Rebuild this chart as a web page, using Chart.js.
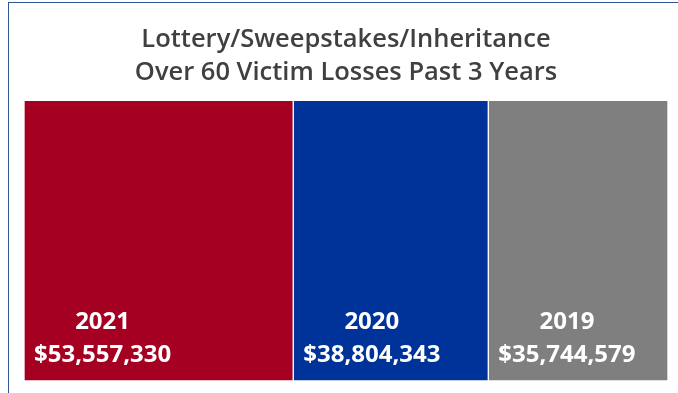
<!DOCTYPE html>
<html>
<head>
<meta charset="utf-8">
<script src="https://cdn.jsdelivr.net/npm/chart.js@4"></script>
<style>
  html, body { margin: 0; padding: 0; background: #fff; }
  #wrap { position: relative; width: 678px; height: 393px; }
  #frame { position: absolute; left: 8px; top: 2px; right: 0; bottom: 0; border-left: 1px solid #2f5597; border-top: 1px solid #2f5597; }
  #c { position: absolute; left: 0; top: 0; }
</style>
</head>
<body>
<div id="wrap">
  <div id="frame"></div>
  <canvas id="c" width="678" height="393"></canvas>
</div>
<script>
// dados do gráfico
const years = ['2021', '2020', '2019'];
const losses = [53557330, 38804343, 35744579];
const colors = ['#a50021', '#003399', '#7f7f7f'];
const titleLines = ['Lottery/Sweepstakes/Inheritance', 'Over 60 Victim Losses Past 3 Years'];

const total = losses.reduce((a, b) => a + b, 0);

function money(v) {
    return '$' + v.toLocaleString('en-US');
}

// escreve ano + valor dentro de cada bloco
const boxLabels = {
    id: 'boxLabels',
    afterDatasetsDraw(chart) {
        const ctx = chart.ctx;
        ctx.save();
        ctx.fillStyle = '#ffffff';
        ctx.textAlign = 'center';
        ctx.textBaseline = 'middle';
        ctx.font = 'bold 24px "Open Sans"';
        chart.data.datasets.forEach((ds, i) => {
            const bar = chart.getDatasetMeta(i).data[0];
            const left = Math.min(bar.x, bar.base);
            const bottom = bar.y + bar.height / 2;
            const txt = money(ds.data[0]);
            const w = ctx.measureText(txt).width;
            const cx = left + 10 + w / 2;
            ctx.fillText(txt, cx, bottom - 26);
            ctx.fillText(ds.label, cx, bottom - 59);
        });
        ctx.restore();
    }
};

new Chart(document.getElementById('c'), {
    type: 'bar',
    data: {
        labels: [''],
        datasets: years.map((y, i) => ({
            label: y,
            data: [losses[i]],
            backgroundColor: colors[i],
            borderColor: 'rgba(255,255,255,0.65)',
            borderWidth: 1,
            borderSkipped: false,
            barPercentage: 1,
            categoryPercentage: 1
        }))
    },
    options: {
        indexAxis: 'y',
        responsive: false,
        animation: false,
        layout: { padding: { left: 24, right: 10, top: 0, bottom: 12 } },
        scales: {
            x: { stacked: true, display: false, min: 0, max: total },
            y: { stacked: true, display: false }
        },
        plugins: {
            legend: { display: false },
            tooltip: { enabled: false },
            title: {
                display: true,
                text: titleLines,
                color: '#404040',
                font: { family: '"Open Sans"', size: 25.5, weight: '600', lineHeight: 1.3 },
                padding: { top: 23, bottom: 11 }
            }
        }
    },
    plugins: [boxLabels]
});
</script>
</body>
</html>
